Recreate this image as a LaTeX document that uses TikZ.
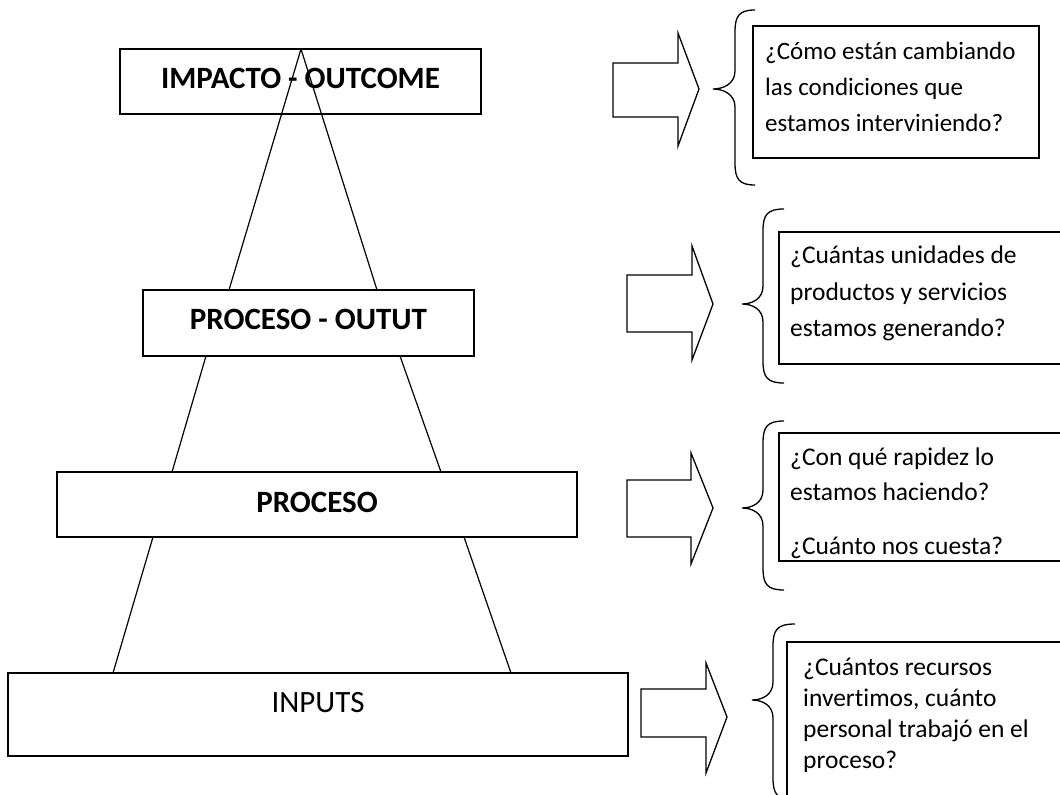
\documentclass[tikz,border=0pt]{standalone}
\usepackage{fontspec}
\setmainfont{Carlito}[Ligatures=NoCommon]
\usepackage{tikz}

\begin{document}
\begin{tikzpicture}[x=1pt, y=-1pt,
    level/.style={draw, rectangle, line width=1.8pt, inner sep=0pt, font=\fontsize{31}{36}\selectfont\bfseries, text depth=7pt},
    qbox/.style={draw, rectangle, line width=1.8pt, inner sep=0pt, anchor=north west},
    qtext/.style={anchor=north west, inner sep=0pt, align=left}]
		\clip (0,0) rectangle (1060,795);

		% Levels of the pyramid
		\node[level, minimum width=361, minimum height=65] (imp) at (300.5,81.5) {IMPACTO - OUTCOME};
		\node[level, minimum width=331, minimum height=66] (out) at (308.5,323) {PROCESO - OUTUT};
		\node[level, minimum width=520, minimum height=65, text depth=4pt] (pro) at (317,504.5) {PROCESO};
		\node[level, minimum width=620, minimum height=83, font=\fontsize{31}{36}\selectfont, text depth=24pt] (inp) at (318,714.5) {INPUTS};

		% Sides of the pyramid
		\coordinate (top) at (301,49);
		\coordinate (l1) at (229,290); \coordinate (r1) at (377,290);
		\coordinate (l2) at (206,356); \coordinate (r2) at (400,356);
		\coordinate (l3) at (172,472); \coordinate (r3) at (441,472);
		\coordinate (l4) at (153,537); \coordinate (r4) at (464,537);
		\coordinate (l5) at (113,673); \coordinate (r5) at (511,673);
		\draw[line width=1.2pt] (top) -- (l1) (top) -- (r1);
		\draw[line width=1.2pt] (l2) -- (l3) (r2) -- (r3);
		\draw[line width=1.2pt] (l4) -- (l5) (r4) -- (r5);

		% Block arrows
		\foreach \l/\st/\sb/\hx/\ht/\hb/\tx/\ty in {613/63/117/678/33/146/699/89, 627/275/332/692/246/360/713/304, 627/480/537/691/453/564/713/508, 641/689/737/706/663/773/727/717} {
				\draw[line width=1.3pt] (\l,\st) -- (\hx,\st) -- (\hx,\ht) -- (\tx,\ty) -- (\hx,\hb) -- (\hx,\sb) -- (\l,\sb) -- cycle;
			}

		% Braces
		\foreach \tx/\ty/\vx/\ex/\ya/\yb in {713/89/735/755/10/185, 742/304/763/784/209/383, 742/508/763/784/421/590, 752/700/773/795/624/800} {
				\draw[line width=1.3pt] (\ex,\ya) .. controls (\vx+4,\ya) and (\vx,\ya+6) .. (\vx,\ya+22) -- (\vx,\ty-18)
					.. controls (\vx,\ty-5) and (\tx+10,\ty) .. (\tx,\ty)
					.. controls (\tx+10,\ty) and (\vx,\ty+5) .. (\vx,\ty+18) -- (\vx,\yb-22)
					.. controls (\vx,\yb-6) and (\vx+4,\yb) .. (\ex,\yb);
			}

		% Question boxes
		\node[qbox, minimum width=286, minimum height=132] (q1) at (752,25) {};
		\node[qbox, minimum width=300, minimum height=132] (q2) at (778,231) {};
		\node[qbox, minimum width=300, minimum height=128] (q3) at (778,432) {};
		\node[qbox, minimum width=300, minimum height=200] (q4) at (786,641) {};

		\node[qtext, font=\fontsize{25}{36}\selectfont] (q1t) at (765,42) {¿Cómo están cambiando\\las condiciones que\\estamos interviniendo?};
		\node[qtext, font=\fontsize{25.5}{36.5}\selectfont] (q2t) at (790,246) {¿Cuántas unidades de\\productos y servicios\\estamos generando?};
		\node[qtext, font=\fontsize{25.5}{34.5}\selectfont] (q3t) at (790,448) {¿Con qué rapidez lo\\estamos haciendo?\\[20pt]¿Cuánto nos cuesta?};
		\node[qtext, font=\fontsize{25.5}{31}\selectfont] (q4t) at (803,658) {¿Cuántos recursos\\invertimos, cuánto\\personal trabajó en el\\proceso?};
	\end{tikzpicture}
\end{document}
